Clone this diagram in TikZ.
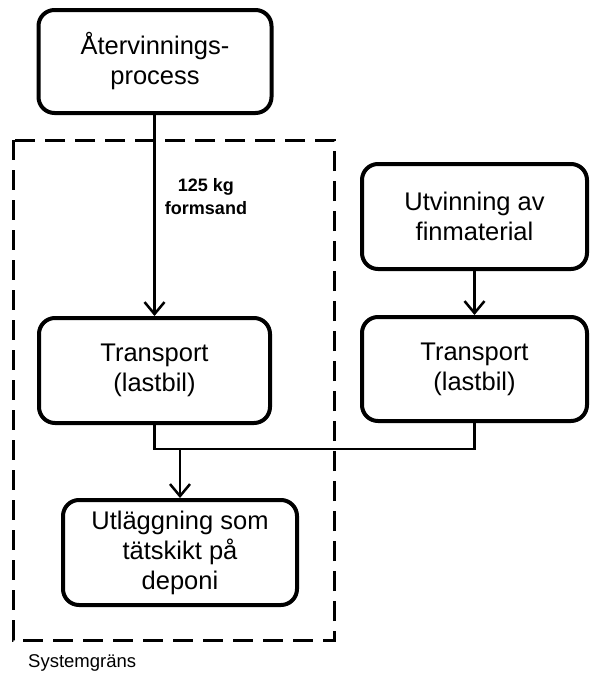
\documentclass[tikz,border=0pt]{standalone}
\usepackage{fontspec}
\setmainfont{Liberation Sans}
\usetikzlibrary{arrows.meta}
\begin{document}
\begin{tikzpicture}[x=1pt,y=-1pt,
  procbox/.style={draw, line width=4pt, rounded corners=16pt, align=center,
    font=\fontsize{25.5}{30}\selectfont, inner sep=0pt},
  conn/.style={line width=2.5pt},
  arr/.style={conn, -{Straight Barb[length=12pt,width=20pt,line width=2.5pt]}},
  boundary/.style={line width=3pt, dash pattern=on 20pt off 10pt}]
\useasboundingbox (0,0) rectangle (590,673);
\node[procbox, minimum width=233pt, minimum height=103pt] (rec) at (155,61.5) {Återvinnings-\\process};
\node[procbox, minimum width=225pt, minimum height=105pt] (utv) at (474.5,216.5) {Utvinning av\\finmaterial};
\node[procbox, minimum width=231pt, minimum height=105pt] (lt) at (154.5,370.5) {Transport\\(lastbil)};
\node[procbox, minimum width=225pt, minimum height=104pt] (rt) at (474.5,369) {Transport\\(lastbil)};
\node[procbox, minimum width=234pt, minimum height=105pt] (bot) at (180,552.5) {Utläggning som\\tätskikt på\\deponi};
\draw[boundary] (13,140) rectangle (334,640);
\draw[arr] (rec.south -| lt.north) -- (lt.north);
\draw[arr] (utv.south) -- (rt.north);
\coordinate (j) at (180,449);
\draw[conn] (lt.south) -- (lt.south |- j) -- (rt.south |- j) -- (rt.south);
\draw[arr] (j) -- (bot.north);
\node[font=\bfseries\fontsize{18}{23}\selectfont, align=center] (lbl) at (206,197) {125 kg\\formsand};
\node[font=\fontsize{18.5}{22}\selectfont, anchor=west, inner sep=0pt] (sys) at (28,663) {Systemgräns};
\end{tikzpicture}
\end{document}
